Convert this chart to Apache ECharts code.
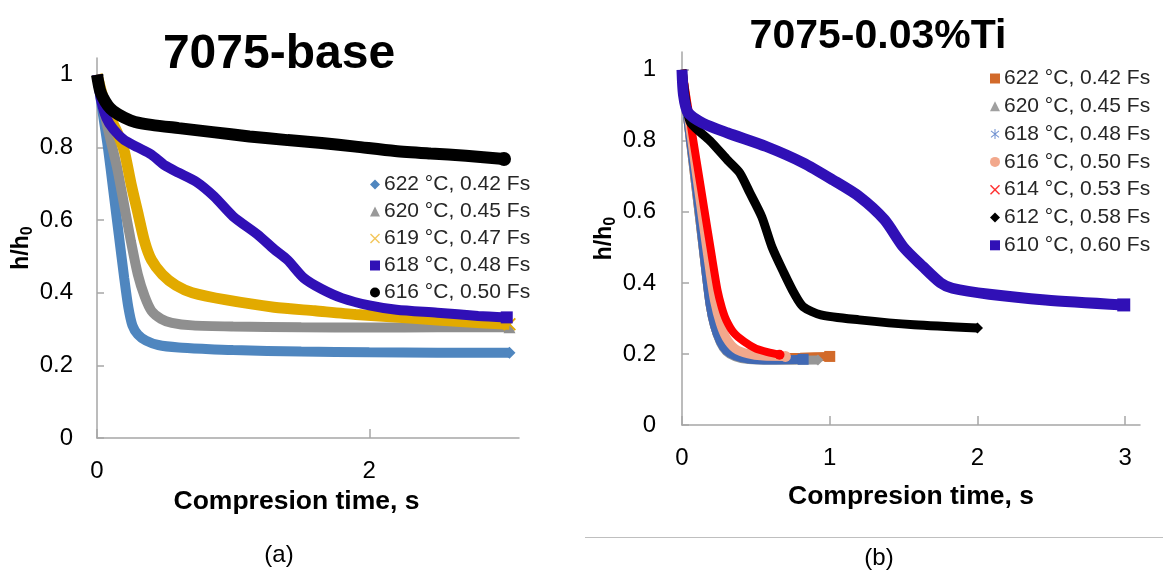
<!DOCTYPE html>
<html><head><meta charset="utf-8">
<script src="https://cdn.jsdelivr.net/npm/echarts@6/dist/echarts.min.js"></script>
<style>html,body{margin:0;padding:0;background:#fff}#c{width:1163px;height:576px}</style>
</head><body><div id="c"></div>
<script>
// ---------- DATA ----------
const FONT = '"Liberation Sans", Arial, sans-serif';
const leftLabels = ['622 °C, 0.42 Fs','620 °C, 0.45 Fs','619 °C, 0.47 Fs','618 °C, 0.48 Fs','616 °C, 0.50 Fs'];
const rightLabels = ['622 °C, 0.42 Fs','620 °C, 0.45 Fs','618 °C, 0.48 Fs','616 °C, 0.50 Fs','614 °C, 0.53 Fs','612 °C, 0.58 Fs','610 °C, 0.60 Fs'];
const leftXTicks = [0, 2];
const rightXTicks = [0, 1, 2, 3];
const yTicks = [0, 0.2, 0.4, 0.6, 0.8, 1];

// (a) 7075-base  [time s, h/h0]
const a622 = [[0,1],[0.04,0.9],[0.08,0.8],[0.12,0.68],[0.16,0.56],[0.2,0.44],[0.23,0.36],[0.26,0.31],[0.3,0.285],[0.36,0.268],[0.45,0.256],[0.6,0.249],[0.8,0.245],[1.0,0.242],[1.5,0.238],[2.0,0.236],[2.5,0.235],[3.03,0.235]];
const a620 = [[0,1],[0.05,0.9],[0.1,0.82],[0.15,0.74],[0.2,0.64],[0.25,0.54],[0.3,0.45],[0.35,0.39],[0.4,0.35],[0.47,0.328],[0.55,0.317],[0.7,0.31],[1.0,0.307],[1.5,0.305],[2.0,0.304],[2.5,0.305],[3.03,0.305]];
const a619 = [[0,1],[0.05,0.93],[0.1,0.88],[0.15,0.84],[0.2,0.79],[0.25,0.7],[0.3,0.62],[0.35,0.54],[0.4,0.49],[0.48,0.45],[0.58,0.42],[0.7,0.4],[0.95,0.38],[1.3,0.36],[1.6,0.35],[1.9,0.34],[2.3,0.33],[2.7,0.32],[3.03,0.313]];
const a618 = [[0,1],[0.03,0.93],[0.07,0.88],[0.12,0.85],[0.2,0.82],[0.3,0.8],[0.4,0.78],[0.5,0.75],[0.6,0.73],[0.73,0.705],[0.86,0.665],[1.0,0.61],[1.18,0.56],[1.3,0.52],[1.4,0.49],[1.52,0.44],[1.65,0.41],[1.8,0.385],[2.0,0.365],[2.2,0.353],[2.5,0.345],[2.8,0.336],[3.01,0.332]];
const a616 = [[0,1],[0.02,0.96],[0.04,0.94],[0.08,0.915],[0.12,0.9],[0.2,0.882],[0.28,0.87],[0.4,0.862],[0.6,0.853],[0.85,0.842],[1.12,0.83],[1.4,0.82],[1.65,0.812],[1.9,0.802],[2.19,0.79],[2.45,0.783],[2.71,0.777],[2.99,0.768]];

// (b) 7075-0.03%Ti
const b622 = [[0,1],[0.04,0.86],[0.08,0.72],[0.12,0.58],[0.16,0.44],[0.19,0.34],[0.22,0.28],[0.26,0.235],[0.3,0.21],[0.36,0.196],[0.45,0.19],[0.6,0.19],[0.8,0.191],[1.0,0.193]];
const b620 = [[0,1],[0.04,0.86],[0.08,0.72],[0.12,0.58],[0.16,0.44],[0.19,0.34],[0.22,0.28],[0.26,0.232],[0.3,0.207],[0.36,0.192],[0.45,0.184],[0.6,0.182],[0.92,0.183]];
const b618 = [[0,1],[0.04,0.86],[0.08,0.73],[0.12,0.59],[0.16,0.44],[0.19,0.34],[0.22,0.28],[0.26,0.235],[0.3,0.21],[0.36,0.195],[0.45,0.186],[0.6,0.183],[0.82,0.185]];
const b616 = [[0,1],[0.05,0.85],[0.1,0.7],[0.15,0.55],[0.19,0.43],[0.22,0.35],[0.26,0.285],[0.3,0.245],[0.36,0.215],[0.45,0.2],[0.55,0.194],[0.7,0.193]];
const b614 = [[0,1],[0.05,0.87],[0.1,0.74],[0.15,0.61],[0.2,0.48],[0.24,0.38],[0.27,0.33],[0.3,0.295],[0.35,0.26],[0.42,0.235],[0.5,0.215],[0.58,0.205],[0.66,0.198]];
const b612 = [[0,1],[0.03,0.9],[0.06,0.85],[0.19,0.8],[0.31,0.745],[0.39,0.71],[0.46,0.653],[0.54,0.586],[0.61,0.5],[0.69,0.428],[0.76,0.37],[0.82,0.333],[0.94,0.31],[1.2,0.296],[1.57,0.282],[2.0,0.273]];
const b610 = [[0,1],[0.01,0.93],[0.04,0.88],[0.14,0.85],[0.31,0.822],[0.57,0.784],[0.82,0.738],[1.02,0.69],[1.2,0.643],[1.37,0.578],[1.5,0.5],[1.63,0.446],[1.75,0.4],[1.83,0.385],[2.08,0.368],[2.46,0.352],[2.99,0.338]];

// ---------- STYLE ----------
const leftSets = [a622, a620, a619, a618, a616];
const leftColors = ['#4F86BF', '#8F8F8F', '#E2AA00', '#3010B6', '#000000'];
const leftWidths = [10, 10, 11, 10, 12];
const XPATH = 'path://M0,1 L1,0 L5,4 L9,0 L10,1 L6,5 L10,9 L9,10 L5,6 L1,10 L0,9 L4,5 Z';
const leftIcons = ['diamond', 'triangle', XPATH, 'rect', 'circle'];
const leftEnd = ['diamond', 'triangle', XPATH, 'rect', 'circle'];
const leftIconColors = ['#4F86BF', '#999999', '#F3C65A', '#3010B6', '#000000'];

const rightSets = [b622, b620, b618, b616, b614, b612, b610];
const rightColors = ['#D26A2A', '#969696', '#4169B4', '#F2A88C', '#FF0000', '#000000', '#3010B6'];
const rightWidths = [9, 9, 9, 9, 8, 9, 11];
const rightIcons = ['rect', 'triangle', 'path://M4.5,0 H5.5 V10 H4.5 Z M0.7,2.2 L1.3,1.4 L9.3,7.8 L8.7,8.6 Z M0.7,7.8 L8.7,1.4 L9.3,2.2 L1.3,8.6 Z', 'circle', XPATH, 'diamond', 'rect'];
const rightEnd = ['rect', 'diamond', 'rect', 'circle', 'circle', 'diamond', 'rect'];
const rightIconColors = ['#D26A2A', '#A0A0A0', '#6F90D0', '#F2A88C', '#FF3030', '#000000', '#3010B6'];

const nameMap = {};
leftLabels.forEach((l, i) => nameMap['L' + i] = l);
rightLabels.forEach((l, i) => nameMap['R' + i] = l);

function withEnd(d, sym, size) {
  return d.map((p, k) => k === d.length - 1 ? { value: p, symbol: sym, symbolSize: size } : { value: p, symbol: 'none' });
}

const series = [];
leftSets.forEach((d, i) => series.push({
  name: 'L' + i, type: 'line', xAxisIndex: 0, yAxisIndex: 0, data: withEnd(d, leftEnd[i], leftWidths[i] + 2),
  showSymbol: true, smooth: 0.25,
  lineStyle: { color: leftColors[i], width: leftWidths[i] }, itemStyle: { color: leftColors[i] }, z: 2 + i
}));
rightSets.forEach((d, i) => series.push({
  name: 'R' + i, type: 'line', xAxisIndex: 1, yAxisIndex: 1, data: withEnd(d, rightEnd[i], rightWidths[i] + 2),
  showSymbol: true, smooth: 0.25,
  lineStyle: { color: rightColors[i], width: rightWidths[i] }, itemStyle: { color: rightColors[i] }, z: 2 + i
}));

function xAxisCfg(gi, max, ticks, nameGap, namePad) {
  return {
    gridIndex: gi, type: 'value', min: 0, max: max,
    name: 'Compresion time, s', nameLocation: 'middle', nameGap: nameGap,
    nameTextStyle: { fontFamily: FONT, fontSize: 26.5, fontWeight: 'bold', color: '#000', padding: namePad },
    axisLine: { show: true, onZero: false, lineStyle: { color: '#A6A6A6', width: 1.5 } },
    axisTick: { show: true, inside: true, length: 9, customValues: ticks, lineStyle: { color: '#A6A6A6', width: 1.5 } },
    axisLabel: { customValues: ticks, margin: 21, fontFamily: FONT, fontSize: 24, color: '#000' },
    splitLine: { show: false }
  };
}
function yAxisCfg(gi, max, nameGap, margin) {
  return {
    gridIndex: gi, type: 'value', min: 0, max: max,
    name: '{n|h/h}{s|0}', nameLocation: 'middle', nameGap: nameGap,
    nameTextStyle: { rich: {
      n: { fontFamily: FONT, fontSize: 23, fontWeight: 'bold', color: '#000' },
      s: { fontFamily: FONT, fontSize: 16, fontWeight: 'bold', color: '#000', padding: [12, 0, 0, 0] } } },
    axisLine: { show: true, onZero: false, lineStyle: { color: '#A6A6A6', width: 1.5 } },
    axisTick: { show: true, inside: true, length: 7, customValues: yTicks, lineStyle: { color: '#A6A6A6', width: 1.5 } },
    axisLabel: { customValues: yTicks, margin: margin, fontFamily: FONT, fontSize: 24, color: '#000' },
    splitLine: { show: false }
  };
}

const option = {
  animation: false,
  backgroundColor: '#fff',
  grid: [
    { left: 97, top: 58, width: 422, height: 380 },
    { left: 682, top: 52, width: 458, height: 373 }
  ],
  xAxis: [ xAxisCfg(0, 3.1, leftXTicks, 46, [0, 23, 0, 0]), xAxisCfg(1, 3.1, rightXTicks, 58, 0) ],
  yAxis: [ yAxisCfg(0, 1.046, 56, 24), yAxisCfg(1, 1.05, 57, 26) ],
  legend: [
    { orient: 'vertical', left: 365, top: 169, itemWidth: 10, itemHeight: 10, itemGap: 6,
      formatter: n => nameMap[n], selectedMode: false,
      textStyle: { fontFamily: FONT, fontSize: 21, color: '#262626', lineHeight: 21, padding: [0, 0, 0, -1] },
      data: leftLabels.map((l, i) => ({ name: 'L' + i, icon: leftIcons[i], itemStyle: { color: leftIconColors[i] } })) },
    { orient: 'vertical', left: 985, top: 63, itemWidth: 10, itemHeight: 10, itemGap: 6.8,
      formatter: n => nameMap[n], selectedMode: false,
      textStyle: { fontFamily: FONT, fontSize: 21, color: '#262626', lineHeight: 21, padding: [0, 0, 0, -1] },
      data: rightLabels.map((l, i) => ({ name: 'R' + i, icon: rightIcons[i], itemStyle: { color: rightIconColors[i] } })) }
  ],
  graphic: [
    { type: 'text', x: 279, y: 55, style: { text: '7075-base', font: 'bold 48px ' + FONT, fill: '#000', textAlign: 'center', textVerticalAlign: 'middle' } },
    { type: 'text', x: 878, y: 37, style: { text: '7075-0.03%Ti', font: 'bold 41px ' + FONT, fill: '#000', textAlign: 'center', textVerticalAlign: 'middle' } },
    { type: 'text', x: 279, y: 555, style: { text: '(a)', font: '24px ' + FONT, fill: '#000', textAlign: 'center', textVerticalAlign: 'middle' } },
    { type: 'text', x: 879, y: 558, style: { text: '(b)', font: '24px ' + FONT, fill: '#000', textAlign: 'center', textVerticalAlign: 'middle' } },
    { type: 'line', shape: { x1: 585, y1: 537.5, x2: 1163, y2: 537.5 }, style: { stroke: '#BFBFBF', lineWidth: 1 } }
  ],
  series: series
};
const chart = echarts.init(document.getElementById('c'), null, { renderer: 'canvas' });
chart.setOption(option);
</script></body></html>
